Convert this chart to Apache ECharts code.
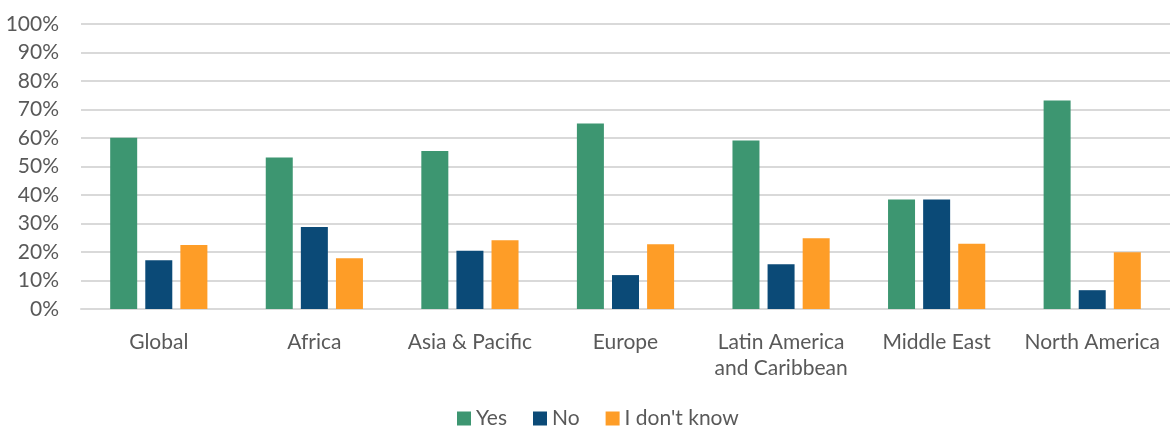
<!DOCTYPE html>
<html>
<head>
<meta charset="utf-8">
<script src="https://cdn.jsdelivr.net/npm/echarts@6/dist/echarts.min.js"></script>
<style>
html,body{margin:0;padding:0;background:#fff;}
#c{width:1170px;height:428px;}
</style>
</head>
<body>
<div id="c"></div>
<script>
const categories = ['Global', 'Africa', 'Asia & Pacific', 'Europe', 'Latin America\nand Caribbean', 'Middle East', 'North America'];
const yesValues = [60.1, 53.2, 55.4, 65.1, 59.1, 38.4, 73.2];
const noValues = [17.1, 28.8, 20.4, 11.9, 15.7, 38.4, 6.6];
const dontKnowValues = [22.5, 17.8, 24.1, 22.7, 24.8, 22.9, 19.9];
const seriesNames = ['Yes', 'No', "I don't know"];

const font = 'Lato, "Open Sans", sans-serif';
const textColor = '#595959';
const chart = echarts.init(document.getElementById('c'));
const mk = (name, data, color) => ({
  name, type: 'bar', data, barWidth: 27, barGap: '30%',
  itemStyle: { color }
});
chart.setOption({
  animation: false,
  textStyle: { fontFamily: font },
  grid: { left: 81, right: -3, top: 24, bottom: 119, containLabel: false },
  legend: {
    bottom: -6, left: 452,
    itemWidth: 14, itemHeight: 14, itemGap: 26,
    icon: 'rect',
    textStyle: { fontFamily: font, fontSize: 21, color: textColor, padding: [0, 0, 0, 0] },
    data: seriesNames
  },
  xAxis: {
    type: 'category', data: categories,
    axisLine: { show: true, lineStyle: { color: '#d9d9d9', width: 2 } },
    axisTick: { show: false },
    axisLabel: { fontFamily: font, fontSize: 21, color: textColor, margin: 20, lineHeight: 26, interval: 0 }
  },
  yAxis: {
    type: 'value', min: 0, max: 100, interval: 10,
    axisLine: { show: false }, axisTick: { show: false },
    splitLine: { lineStyle: { color: '#d9d9d9', width: 2 } },
    axisLabel: { fontFamily: font, fontSize: 21, color: textColor, margin: 22, formatter: '{value}%' }
  },
  series: [
    mk(seriesNames[0], yesValues, '#3D9671'),
    mk(seriesNames[1], noValues, '#0B4A77'),
    mk(seriesNames[2], dontKnowValues, '#FE9D27')
  ]
});
</script>
</body>
</html>
